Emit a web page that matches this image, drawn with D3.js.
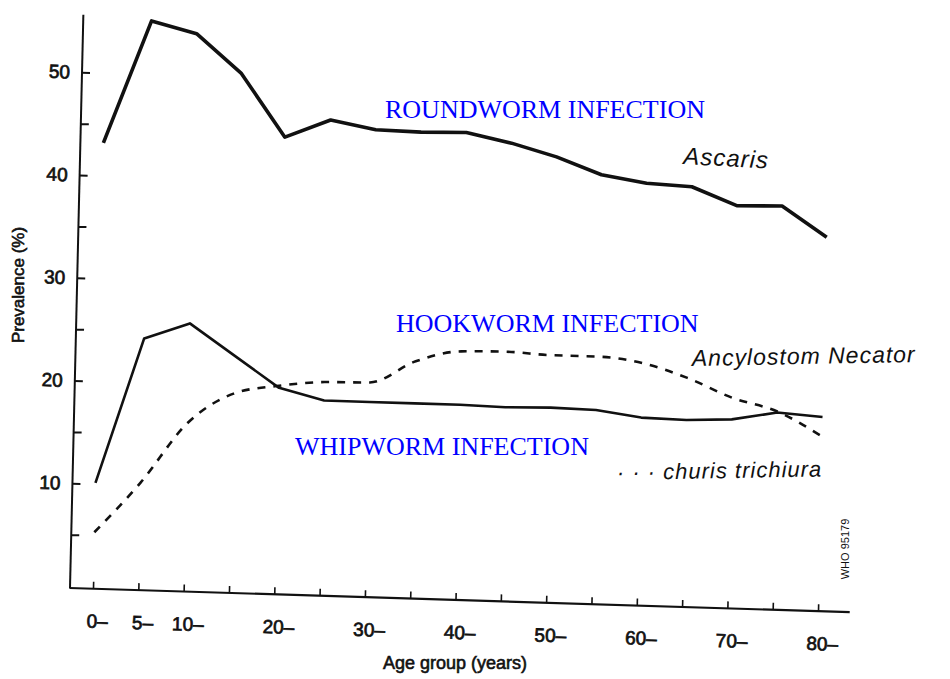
<!DOCTYPE html>
<html>
<head>
<meta charset="utf-8">
<script src="https://cdn.jsdelivr.net/npm/d3@7"></script>
<style>
  html, body { margin: 0; padding: 0; background: #fff; }
  svg { display: block; }
</style>
</head>
<body>
<script>
// ---- data (prevalence %) ----
const ageGroups = [0, 5, 10, 15, 20, 25, 30, 35, 40, 45, 50, 55, 60, 65, 70, 75, 80];
const ascaris   = [43.2, 55.2, 54.1, 50.4, 44.3, 46.1, 45.3, 45.2, 45.3, 44.4, 43.2, 41.6, 40.9, 40.7, 39.0, 39.1, 36.2];
const whipworm  = [10.1, 24.3, 25.9, 22.9, 19.9, 18.8, 18.8, 18.8, 18.8, 18.7, 18.8, 18.7, 18.1, 18.0, 18.2, 19.0, 18.7];
const hookworm  = [5.3, 10.3, 16.2, 19.2, 20.1, 20.6, 20.7, 22.9, 24.0, 24.1, 23.9, 23.9, 23.4, 22.1, 20.3, 19.1, 16.8];
const xTickAges   = [0, 5, 10, 20, 30, 40, 50, 60, 70, 80];
const xTickLabels = ["0–", "5–", "10–", "20–", "30–", "40–", "50–", "60–", "70–", "80–"];
const yTicks      = [5, 10, 15, 20, 25, 30, 35, 40, 45, 50];
const overlayLabels = ["ROUNDWORM INFECTION", "HOOKWORM INFECTION", "WHIPWORM INFECTION"];
const handLabels    = ["Ascaris", "Ancylostom Necator", "· · · churis trichiura"];

const W = 950, H = 679;
const svg = d3.select("body").append("svg").attr("width", W).attr("height", H);
svg.append("rect").attr("width", W).attr("height", H).attr("fill", "#fff");

// scanned figure is slightly sheared
const g = svg.append("g")
  .attr("transform", "translate(70,588) matrix(1,0.031,-0.0233,1,0,0) translate(-70,-588)");

const x = d3.scaleLinear().domain([0, 80]).range([93, 818]);
const y = d3.scaleLinear().domain([0, 50]).range([586, 72.25]);

const ink = "#111";
const font = "'Liberation Sans', Arial, sans-serif";

// ---- y axis ----
g.append("line").attr("x1", 70).attr("x2", 70)
  .attr("y1", y(-0.2)).attr("y2", y(55.6))
  .attr("stroke", ink).attr("stroke-width", 2);
const yAx = g.append("g").attr("transform", "translate(70,0)")
  .call(d3.axisLeft(y).tickValues(yTicks).tickSize(-8).tickPadding(12)
        .tickFormat(d => d % 10 === 0 ? d : ""));
yAx.select(".domain").remove();
yAx.selectAll(".tick line").attr("stroke", ink).attr("stroke-width", 2);
yAx.selectAll(".tick text").attr("font-family", font).attr("font-size", 19)
  .attr("fill", ink).attr("stroke", ink).attr("stroke-width", 0.7);

// ---- x axis ----
g.append("line").attr("x1", x(-2.6)).attr("x2", x(83.5))
  .attr("y1", 588).attr("y2", 588)
  .attr("stroke", ink).attr("stroke-width", 2.2);
const xAx = g.append("g").attr("transform", "translate(0,588)")
  .call(d3.axisBottom(x).tickValues(ageGroups).tickSize(-7).tickFormat(""));
xAx.select(".domain").remove();
xAx.selectAll(".tick line").attr("stroke", ink).attr("stroke-width", 1.6);
g.selectAll(".xlab").data(xTickAges).enter().append("text")
  .attr("class", "xlab")
  .attr("x", d => x(d) + 5).attr("y", 627)
  .attr("text-anchor", "middle")
  .attr("font-family", font).attr("font-size", 19)
  .attr("fill", ink).attr("stroke", ink).attr("stroke-width", 0.7)
  .text((d, i) => xTickLabels[i]);

// ---- lines ----
const lineLin = d3.line().x((d, i) => x(ageGroups[i])).y(d => y(d)).curve(d3.curveLinear);
const lineSmooth = d3.line().x((d, i) => x(ageGroups[i])).y(d => y(d)).curve(d3.curveMonotoneX);

g.append("path").datum(ascaris).attr("d", lineLin)
  .attr("fill", "none").attr("stroke", ink).attr("stroke-width", 3.6)
  .attr("stroke-linejoin", "round");
g.append("path").datum(whipworm).attr("d", lineLin)
  .attr("fill", "none").attr("stroke", ink).attr("stroke-width", 2.6)
  .attr("stroke-linejoin", "round");
g.append("path").datum(hookworm).attr("d", lineSmooth)
  .attr("fill", "none").attr("stroke", ink).attr("stroke-width", 2.6)
  .attr("stroke-dasharray", "8,8");

// ---- handwritten species labels ----
const hand = [
  {t: handLabels[0], x: 683, y: 164, fs: 24, r: 3},
  {t: handLabels[1], x: 692, y: 366, fs: 23, r: -1},
  {t: handLabels[2], x: 617, y: 480, fs: 22, r: -1}
];
svg.selectAll(".hand").data(hand).enter().append("text")
  .attr("class", "hand")
  .attr("transform", d => `translate(${d.x},${d.y}) rotate(${d.r})`)
  .attr("font-family", font).attr("font-style", "italic").attr("font-size", d => d.fs)
  .attr("letter-spacing", 1)
  .attr("fill", ink)
  .text(d => d.t);

// ---- axis titles ----
svg.append("text")
  .attr("transform", "translate(24,285) rotate(-90)")
  .attr("text-anchor", "middle")
  .attr("font-family", font).attr("font-size", 17)
  .attr("fill", ink).attr("stroke", ink).attr("stroke-width", 0.6)
  .text("Prevalence (%)");
svg.append("text")
  .attr("x", 455).attr("y", 669)
  .attr("text-anchor", "middle")
  .attr("font-family", font).attr("font-size", 18)
  .attr("fill", ink).attr("stroke", ink).attr("stroke-width", 0.6)
  .text("Age group (years)");

// WHO code
svg.append("text")
  .attr("transform", "translate(849,549) rotate(-90)")
  .attr("text-anchor", "middle")
  .attr("font-family", font).attr("font-size", 11)
  .attr("fill", ink)
  .text("WHO 95179");

// ---- blue overlay labels ----
const overlay = [
  {t: overlayLabels[0], x: 385, y: 118},
  {t: overlayLabels[1], x: 396, y: 332},
  {t: overlayLabels[2], x: 295, y: 455}
];
svg.selectAll(".ov").data(overlay).enter().append("text")
  .attr("class", "ov")
  .attr("x", d => d.x).attr("y", d => d.y)
  .attr("font-family", "'Liberation Serif', 'Times New Roman', serif")
  .attr("font-size", 26)
  .attr("fill", "#0000ff")
  .text(d => d.t);
</script>
</body>
</html>
